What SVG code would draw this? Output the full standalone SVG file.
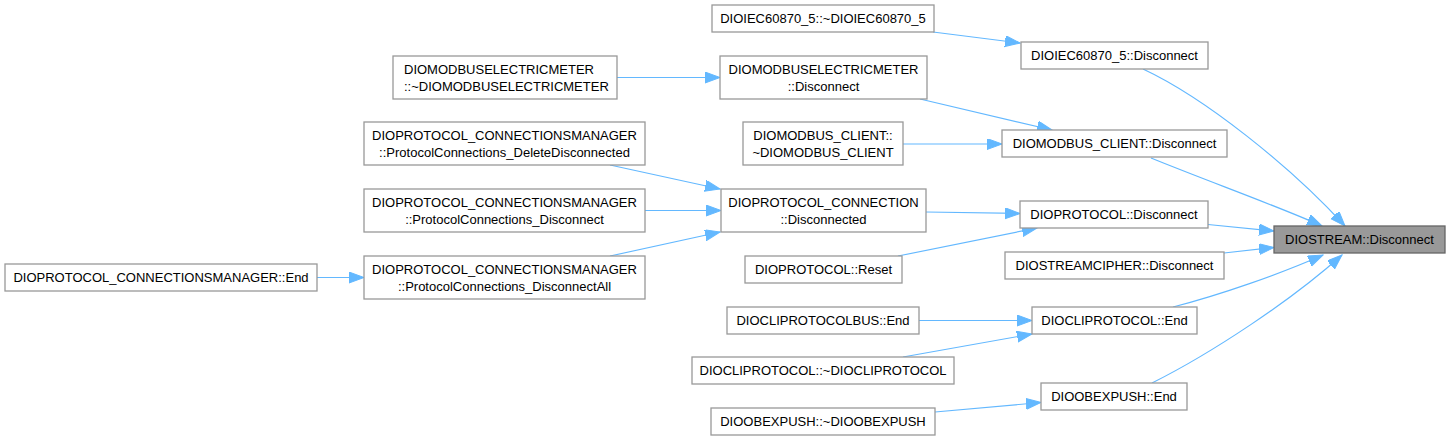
<svg xmlns="http://www.w3.org/2000/svg" width="1450" height="440" viewBox="0 0 1450 440">
<style>
rect.n{fill:#ffffff;stroke:#999999;stroke-width:1.3}
rect.h{fill:#999999;stroke:#666666;stroke-width:1.3}
text{font-family:"Liberation Sans",Arial,sans-serif;font-size:13px;fill:#000000;text-anchor:middle}
text.l{text-anchor:start}
#edges path{fill:none;stroke:#63b8ff;stroke-width:1.2;marker-end:url(#arr)}
</style>
<defs>
<marker id="arr" markerUnits="userSpaceOnUse" markerWidth="16" markerHeight="12" refX="15" refY="5.5" orient="auto">
<polygon points="0,0 15,5.5 0,11" fill="#63b8ff" stroke="#63b8ff" stroke-width="1"/>
</marker>
</defs>
<rect width="1450" height="440" fill="#ffffff"/>
<g id="edges">
<path d="M933,32 L1020,43"/>
<path d="M1143,69 C1205,98 1290,166 1345,226"/>
<path d="M617,77.5 L720,77.5"/>
<path d="M920,99 L1052,130"/>
<path d="M903,144 L1002,144"/>
<path d="M1151,158 C1210,182 1280,207 1322,226"/>
<path d="M610,165 L720,189"/>
<path d="M645,210.5 L721,210.5"/>
<path d="M610,256 L720,232"/>
<path d="M317,277.5 L364,277.5"/>
<path d="M926,212 L1020,213.5"/>
<path d="M898,256 L1037,228"/>
<path d="M1208,224.5 L1274,231"/>
<path d="M1224,253 L1274,247.5"/>
<path d="M1173,307 C1220,295 1280,274 1323,255"/>
<path d="M919,320.5 L1032,320.5"/>
<path d="M903,357 L1032,334"/>
<path d="M1152,383 C1212,353 1292,300 1342,255"/>
<path d="M935,412 L1041,402.5"/>
</g>
<g id="n1"><rect class="h" x="1274" y="226" width="171" height="27"/><text x="1359.5" y="244">DIOSTREAM::Disconnect</text></g>
<g id="n2"><rect class="n" x="1021" y="42" width="187" height="27"/><text x="1114.5" y="60">DIOIEC60870_5::Disconnect</text></g>
<g id="n3"><rect class="n" x="712" y="5" width="222" height="27"/><text x="823" y="23">DIOIEC60870_5::~DIOIEC60870_5</text></g>
<g id="n4"><rect class="n" x="1002" y="130" width="225" height="27"/><text x="1114.5" y="148">DIOMODBUS_CLIENT::Disconnect</text></g>
<g id="n5"><rect class="n" x="720" y="56" width="207" height="43"/><text x="823.5" y="74">DIOMODBUSELECTRICMETER</text><text x="823.5" y="90.5">::Disconnect</text></g>
<g id="n6"><rect class="n" x="393" y="56" width="224" height="43"/><text class="l" x="404" y="74">DIOMODBUSELECTRICMETER</text><text class="l" x="404" y="90.5">::~DIOMODBUSELECTRICMETER</text></g>
<g id="n7"><rect class="n" x="743" y="122" width="160" height="43"/><text x="823" y="140">DIOMODBUS_CLIENT::</text><text x="823" y="156.5">~DIOMODBUS_CLIENT</text></g>
<g id="n8"><rect class="n" x="1020" y="201" width="188" height="27"/><text x="1114" y="219">DIOPROTOCOL::Disconnect</text></g>
<g id="n9"><rect class="n" x="721" y="189" width="205" height="43"/><text x="823.5" y="207">DIOPROTOCOL_CONNECTION</text><text x="823.5" y="223.5">::Disconnected</text></g>
<g id="n10"><rect class="n" x="364" y="122" width="281" height="43"/><text x="504.5" y="140">DIOPROTOCOL_CONNECTIONSMANAGER</text><text x="504.5" y="156.5">::ProtocolConnections_DeleteDisconnected</text></g>
<g id="n11"><rect class="n" x="364" y="189" width="281" height="43"/><text x="504.5" y="207">DIOPROTOCOL_CONNECTIONSMANAGER</text><text x="504.5" y="223.5">::ProtocolConnections_Disconnect</text></g>
<g id="n12"><rect class="n" x="364" y="256" width="281" height="43"/><text x="504.5" y="274">DIOPROTOCOL_CONNECTIONSMANAGER</text><text x="504.5" y="290.5">::ProtocolConnections_DisconnectAll</text></g>
<g id="n13"><rect class="n" x="5" y="264" width="312" height="27"/><text x="161" y="282">DIOPROTOCOL_CONNECTIONSMANAGER::End</text></g>
<g id="n14"><rect class="n" x="745" y="256" width="157" height="27"/><text x="823.5" y="274">DIOPROTOCOL::Reset</text></g>
<g id="n15"><rect class="n" x="1005" y="252" width="219" height="27"/><text x="1114.5" y="270">DIOSTREAMCIPHER::Disconnect</text></g>
<g id="n16"><rect class="n" x="1032" y="307" width="165" height="27"/><text x="1114.5" y="325">DIOCLIPROTOCOL::End</text></g>
<g id="n17"><rect class="n" x="727" y="307" width="192" height="27"/><text x="823" y="325">DIOCLIPROTOCOLBUS::End</text></g>
<g id="n18"><rect class="n" x="692" y="357" width="262" height="27"/><text x="823" y="375">DIOCLIPROTOCOL::~DIOCLIPROTOCOL</text></g>
<g id="n19"><rect class="n" x="1041" y="383" width="146" height="27"/><text x="1114" y="401">DIOOBEXPUSH::End</text></g>
<g id="n20"><rect class="n" x="711" y="408" width="224" height="27"/><text x="823" y="426">DIOOBEXPUSH::~DIOOBEXPUSH</text></g>
</svg>
